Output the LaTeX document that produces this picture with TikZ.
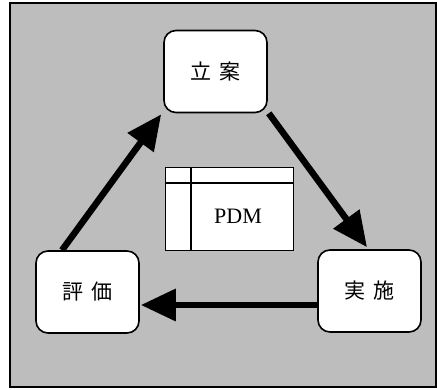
\documentclass[tikz,border=0pt]{standalone}
\usepackage{fontspec}
\setmainfont{Liberation Serif}
\newfontfamily\jfont{Noto Sans CJK JP}
\usetikzlibrary{arrows.meta}
\definecolor{bggray}{gray}{0.74}
\tikzset{
  stage/.style={draw=black, line width=1.6pt, fill=white, rounded corners=12pt,
    minimum width=103pt, minimum height=82pt, inner sep=0pt,
    font=\jfont\fontsize{21}{24}\selectfont},
  bigarrow/.style={line width=6.5pt, -{Triangle[length=35pt,width=31pt]}}
}
\begin{document}
\begin{tikzpicture}[x=1pt,y=-1pt]
\useasboundingbox (0,0) rectangle (437,389);
\fill[white] (0,0) rectangle (437,389);
\draw[line width=1.6pt, fill=bggray] (10,3) rectangle (436,387);
% PDM table
\node[draw=black, line width=1.4pt, fill=white, minimum width=128pt, minimum height=83pt, inner sep=0pt, anchor=north west] (pdm) at (165,167) {};
\draw[line width=1.2pt] ([yshift=-16pt]pdm.north west) -- ([yshift=-16pt]pdm.north east);
\draw[line width=1.2pt] ([xshift=26pt]pdm.north west) -- ([xshift=26pt]pdm.south west);
\node[font=\fontsize{22}{24}\selectfont] (pdmtext) at (238,216) {PDM};
% stages
\node[stage] (plan) at (215.5,71.5) {立\hspace{0.35em}案};
\node[stage] (eval) at (87.5,292) {評\hspace{0.35em}価};
\node[stage] (exec) at (369.5,291) {実\hspace{0.35em}施};
% arrows
\draw[bigarrow] ([xshift=-25.5pt]eval.north) -- ([xshift=-2pt,yshift=-1pt]plan.south west);
\draw[bigarrow] ([xshift=1pt]plan.south east) -- ([xshift=-2.5pt,yshift=2pt]exec.north);
\draw[bigarrow] ([yshift=-14pt]exec.west) -- ([yshift=-13pt,xshift=1pt]eval.east);
\end{tikzpicture}
\end{document}
